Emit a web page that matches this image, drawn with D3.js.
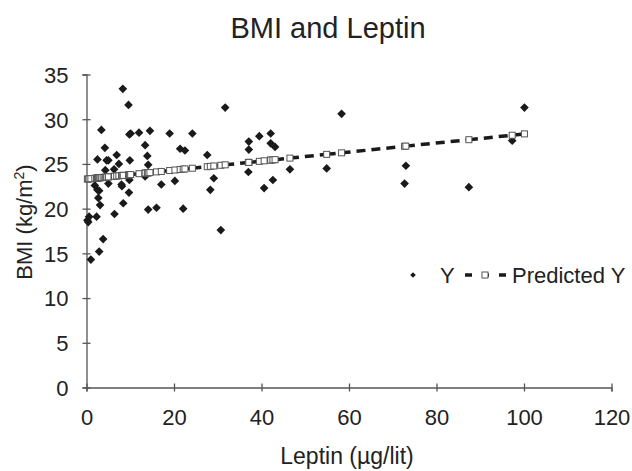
<!DOCTYPE html>
<html>
<head>
<meta charset="utf-8">
<script src="https://cdn.jsdelivr.net/npm/d3@7"></script>
<style>
  body { margin: 0; background: #fff; }
  svg { display: block; font-family: "Liberation Sans", Arial, sans-serif; }
</style>
</head>
<body>
<svg width="632" height="471"></svg>
<script>
// leptin (µg/lit) and measured BMI, one entry per subject
const leptin = [8.3, 9.6, 31.7, 3.4, 9.8, 10.1, 12.0, 14.5, 19.0, 24.2,
  4.2, 13.4, 21.4, 22.5, 2.5, 4.6, 5.0, 6.9, 9.9, 13.9,
  7.4, 27.6, 14.1, 4.3, 6.3, 13.4, 9.8, 5.0, 8.0, 8.1,
  1.9, 2.5, 2.9, 17.1, 20.2, 29.1, 28.3, 9.7, 2.7, 3.1,
  8.4, 0.6, 0.2, 0.4, 2.3, 6.4, 14.1, 16.0, 22.1, 30.7,
  3.8, 2.9, 1.0, 58.3, 37.1, 37.1, 39.5, 42.1, 42.1, 43.1,
  37.0, 46.5, 54.9, 42.6, 40.6, 73.0, 72.7, 100.1, 97.3, 87.4];
const bmi = [33.4, 31.6, 31.3, 28.8, 28.3, 28.4, 28.5, 28.7, 28.4, 28.4,
  26.8, 27.1, 26.7, 26.5, 25.5, 25.4, 25.4, 26.0, 25.4, 25.9,
  25.0, 26.0, 24.9, 24.3, 24.4, 23.6, 23.2, 22.8, 22.7, 22.5,
  22.6, 22.1, 22.0, 22.7, 23.1, 23.4, 22.1, 21.8, 21.2, 20.4,
  20.6, 19.1, 18.7, 18.5, 19.1, 19.4, 19.9, 20.1, 20.0, 17.6,
  16.6, 15.2, 14.3, 30.6, 27.5, 26.6, 28.1, 28.4, 27.3, 26.9,
  24.1, 24.4, 24.5, 23.2, 22.3, 24.8, 22.8, 31.3, 27.6, 22.4];
const predictedBmi = [23.72, 23.78, 24.90, 23.47, 23.79, 23.81, 23.91, 24.03, 24.26, 24.52,
  23.51, 23.98, 24.38, 24.44, 23.43, 23.53, 23.55, 23.65, 23.80, 24.00,
  23.67, 24.69, 24.01, 23.52, 23.62, 23.98, 23.79, 23.55, 23.70, 23.71,
  23.40, 23.43, 23.45, 24.16, 24.32, 24.77, 24.73, 23.79, 23.44, 23.46,
  23.72, 23.33, 23.31, 23.32, 23.42, 23.62, 24.01, 24.11, 24.42, 24.85,
  23.49, 23.45, 23.35, 26.24, 25.17, 25.17, 25.29, 25.43, 25.43, 25.48,
  25.17, 25.65, 26.07, 25.45, 25.35, 26.99, 26.97, 28.36, 28.21, 27.71];

const xTicks = [0, 20, 40, 60, 80, 100, 120];
const yTicks = [0, 5, 10, 15, 20, 25, 30, 35];

const svg = d3.select("svg");
const axisColor = "#555";
const textColor = "#222";

const x = d3.scaleLinear().domain([0, 120]).range([86.5, 611.5]);
const y = d3.scaleLinear().domain([0, 35]).range([387.5, 74.5]);

const data = leptin.map((d, i) => ({x: d, y: bmi[i], p: predictedBmi[i]}));

// title
svg.append("text")
  .attr("x", 328).attr("y", 38)
  .attr("text-anchor", "middle")
  .attr("font-size", 29)
  .attr("fill", textColor)
  .text("BMI and Leptin");

// x axis
const gx = svg.append("g")
  .attr("transform", `translate(0,${y(0)})`)
  .call(d3.axisBottom(x).tickValues(xTicks).tickSize(4));
gx.select(".domain").attr("stroke", axisColor).attr("stroke-width", 1.3);
gx.selectAll(".tick line").attr("y1", -4).attr("y2", 4)
  .attr("stroke", axisColor).attr("stroke-width", 1.3);
gx.selectAll(".tick text")
  .attr("y", 37.5).attr("dy", null)
  .attr("font-size", 22).attr("font-family", null)
  .attr("fill", textColor);

// y axis
const gy = svg.append("g")
  .attr("transform", `translate(${x(0)},0)`)
  .call(d3.axisLeft(y).tickValues(yTicks).tickSize(4));
gy.select(".domain").attr("stroke", axisColor).attr("stroke-width", 1.3);
gy.selectAll(".tick line").attr("x1", -4).attr("x2", 4)
  .attr("stroke", axisColor).attr("stroke-width", 1.3);
gy.selectAll(".tick text")
  .attr("x", -18).attr("dy", "0.36em")
  .attr("font-size", 22).attr("font-family", null)
  .attr("fill", textColor);

// axis titles
svg.append("text")
  .attr("x", 347).attr("y", 464)
  .attr("text-anchor", "middle")
  .attr("font-size", 23)
  .attr("fill", textColor)
  .text("Leptin (µg/lit)");

const yl = svg.append("text")
  .attr("transform", "translate(32,222) rotate(-90)")
  .attr("text-anchor", "middle")
  .attr("font-size", 22)
  .attr("fill", textColor);
yl.append("tspan").text("BMI (kg/m");
yl.append("tspan").attr("dy", -8).attr("font-size", 14).text("2");
yl.append("tspan").attr("dy", 8).text(")");

// observed points
const diamond = d3.symbol().type(d3.symbolDiamond2);
svg.append("g").selectAll("path").data(data).join("path")
  .attr("transform", d => `translate(${x(d.x)},${y(d.y)})`)
  .attr("d", diamond.size(48)())
  .attr("fill", "#1a1a1a");

// predicted line, each segment dashed on its own
const sorted = data.slice().sort((a, b) => d3.ascending(a.x, b.x));
const segs = d3.pairs(sorted);
svg.append("g").selectAll("line").data(segs).join("line")
  .attr("x1", d => x(d[0].x)).attr("y1", d => y(d[0].p))
  .attr("x2", d => x(d[1].x)).attr("y2", d => y(d[1].p))
  .attr("stroke", "#1a1a1a")
  .attr("stroke-width", 3.5)
  .attr("stroke-dasharray", "9,6");

svg.append("g").selectAll("rect").data(sorted).join("rect")
  .attr("x", d => x(d.x) - 3).attr("y", d => y(d.p) - 3)
  .attr("width", 6).attr("height", 6)
  .attr("fill", "#fff")
  .attr("stroke", "#555")
  .attr("stroke-width", 1);

// legend
const lg = svg.append("g").attr("transform", "translate(0,275)");
lg.append("path")
  .attr("transform", "translate(413,0)")
  .attr("d", diamond.size(20)())
  .attr("fill", "#1a1a1a");
lg.append("text").attr("x", 440).attr("y", 8)
  .attr("font-size", 22).attr("fill", textColor).text("Y");
lg.append("line")
  .attr("x1", 465).attr("x2", 507)
  .attr("stroke", "#1a1a1a").attr("stroke-width", 3.5)
  .attr("stroke-dasharray", "7,10");
lg.append("rect")
  .attr("x", 482).attr("y", -3).attr("width", 6).attr("height", 6)
  .attr("fill", "#fff").attr("stroke", "#555").attr("stroke-width", 1);
lg.append("text").attr("x", 512).attr("y", 8)
  .attr("font-size", 22).attr("fill", textColor).text("Predicted Y");
</script>
</body>
</html>
